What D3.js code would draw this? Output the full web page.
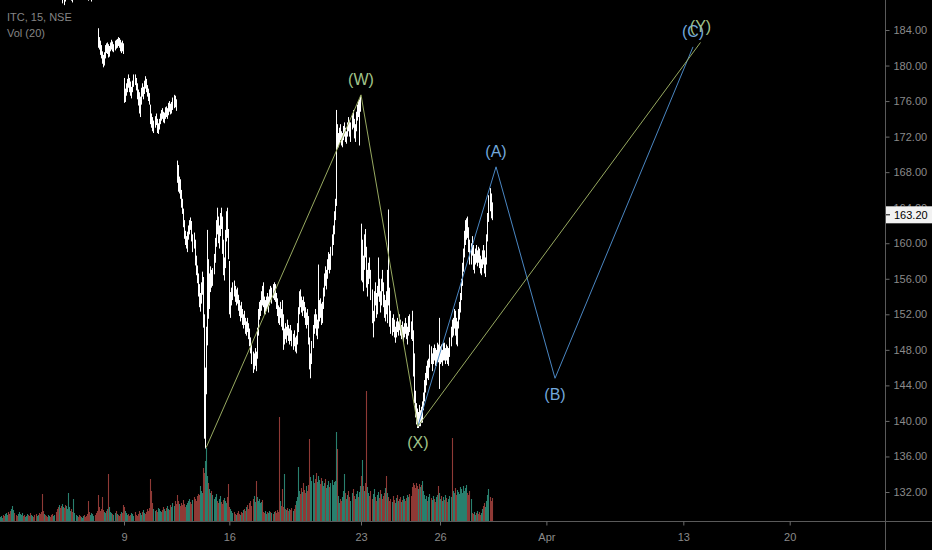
<!DOCTYPE html>
<html><head><meta charset="utf-8">
<script src="https://cdn.jsdelivr.net/npm/d3@7"></script>
<style>html,body{margin:0;padding:0;background:#000;overflow:hidden}svg{display:block}</style>
</head><body>
<svg id="c" width="932" height="550"></svg>
<script>
// bar index 0 = first 15-min bar of 9 Mar; data starts at index -118 (2 Mar)
const firstBar = -118;
const highs = [
// Mar 2
191.7,192.0,192.4,192.3,191.9,192.1,192.6,193.0,192.8,192.4,192.0,192.2,192.5,192.8,192.5,192.1,191.9,192.0,
// Mar 3
192.3,192.7,193.1,193.6,193.4,193.1,193.2,193.7,194.0,193.7,193.3,192.9,193.1,193.4,193.1,192.7,192.3,192.6,192.9,192.6,192.3,191.9,191.7,191.3,191.4,
// Mar 4
190.8,190.5,190.1,190.3,190.6,190.3,189.9,189.5,189.7,190.0,189.7,189.3,189.0,189.2,188.7,188.4,188.6,188.9,188.5,188.2,188.5,188.8,189.1,189.4,189.6,
// Mar 5
189.3,188.9,189.1,189.5,189.9,190.3,190.0,189.6,189.3,189.7,190.1,190.4,190.0,189.6,189.2,188.9,188.6,188.4,188.7,189.0,189.3,189.6,189.3,189.0,188.7,
// Mar 6
184.2,183.2,182.8,182.3,181.6,181.2,181.5,182.3,182.5,182.6,182.4,182.2,182.6,182.9,182.7,182.4,182.8,182.9,183.0,183.2,183.1,182.9,182.6,182.8,182.5,
// Mar 9
178.6,177.4,178.0,178.5,179.0,178.6,178.2,177.6,178.3,179.0,179.0,178.6,178.0,177.3,177.0,176.5,177.5,178.0,177.6,178.3,178.8,178.5,177.8,177.4,176.9,
// Mar 11
175.6,174.6,174.2,173.8,174.3,174.6,174.0,173.5,174.0,174.6,175.0,175.2,174.8,174.7,175.3,175.4,175.2,175.8,176.0,175.7,175.9,176.4,176.7,176.6,176.2,
// Mar 12
169.3,168.8,167.5,167.2,166.0,165.0,163.9,162.6,161.4,160.8,161.3,162.0,162.6,162.9,162.5,161.0,161.2,160.4,158.6,157.5,156.6,155.4,154.4,155.6,156.8,
// Mar 13
156.2,152.0,146.0,150.6,161.5,158.2,156.6,157.4,157.0,157.2,158.8,160.6,162.6,164.0,163.0,162.0,163.4,164.0,163.0,160.4,158.4,161.5,163.6,164.0,161.6,
// Mar 16
158.0,154.5,155.0,155.6,155.8,155.2,154.8,155.0,154.2,153.6,153.0,153.4,152.6,152.0,152.4,151.6,151.2,151.6,151.0,150.4,149.4,148.6,147.8,147.6,148.2,
// Mar 17
147.8,150.5,152.6,153.4,153.6,154.6,155.2,155.6,154.0,153.6,154.0,154.4,154.0,154.8,155.2,155.0,155.4,155.6,155.4,154.4,153.8,153.0,152.8,153.4,152.6,
// Mar 18
153.6,152.0,150.4,151.0,150.6,151.4,150.8,150.4,150.8,150.2,149.8,150.2,149.4,149.6,151.0,152.8,154.6,154.8,154.0,153.6,154.0,153.4,152.8,152.2,152.6,
// Mar 19
151.8,149.4,147.6,149.0,150.8,152.0,152.6,152.0,151.4,157.6,153.6,153.8,153.2,153.4,155.0,156.6,157.4,157.0,158.2,159.0,158.8,159.6,161.0,162.0,163.6,
// Mar 20
165.0,175.0,173.4,172.4,173.0,173.4,172.6,172.4,173.2,173.6,173.0,172.6,173.6,174.2,173.8,173.6,174.6,175.0,174.0,173.4,174.8,175.6,176.0,176.2,176.6,
// Mar 23
162.2,160.4,158.6,161.0,161.6,159.6,157.0,157.8,158.4,157.0,154.8,152.4,154.6,155.6,154.4,155.2,158.4,156.0,154.6,156.0,157.0,155.6,154.2,153.6,154.6,
// Mar 24
157.0,163.8,155.0,152.4,151.6,152.0,151.4,150.6,151.2,151.6,151.2,152.0,151.4,150.8,151.2,150.6,151.0,151.6,151.0,150.6,151.8,152.0,151.2,152.4,150.2,
// Mar 25
147.6,143.4,142.0,141.4,141.0,141.8,141.2,141.6,142.2,143.2,144.6,145.4,146.2,146.8,147.0,148.6,148.4,147.6,148.2,148.6,148.2,148.0,148.8,148.6,151.6,
// Mar 26
148.4,148.6,148.0,148.8,148.8,148.2,148.6,148.4,148.2,149.4,150.6,151.4,151.6,152.6,152.4,151.6,151.2,152.6,153.4,154.4,156.0,157.8,159.4,161.4,162.6,
// Mar 27
162.8,163.0,161.8,160.4,160.0,160.8,159.8,158.8,159.4,159.8,159.2,159.6,159.4,158.6,158.2,159.2,159.8,159.2,158.4,161.0,163.4,165.4,166.2,165.6,164.6
];
const lows = [
190.8,191.0,191.5,191.3,191.0,191.2,191.6,192.1,191.9,191.5,191.2,191.3,191.6,191.9,191.6,191.3,191.0,191.1,
191.5,191.9,192.3,192.7,192.6,192.2,192.4,192.8,193.1,192.8,192.4,192.1,192.2,192.5,192.2,191.8,191.5,191.7,192.0,191.7,191.4,191.1,190.7,190.3,190.5,
189.9,189.5,189.2,189.4,189.7,189.3,188.9,188.6,188.8,189.1,188.7,188.4,188.0,188.3,187.8,187.5,187.0,187.9,186.8,187.2,187.5,187.8,188.1,188.4,188.7,
187.3,187.1,188.1,188.5,188.9,189.3,189.0,188.6,188.3,188.7,189.1,189.4,189.0,188.6,188.2,187.9,187.3,187.4,187.7,187.2,188.3,188.6,188.3,188.0,187.7,
182.0,181.8,181.2,180.8,180.2,179.8,180.0,180.8,181.4,181.3,180.9,181.0,181.6,181.8,181.6,181.5,181.7,181.9,182.0,182.2,182.0,181.6,181.4,181.6,181.3,
175.8,175.9,176.6,177.0,177.5,177.0,176.6,176.3,177.0,177.6,177.8,177.2,176.2,175.5,174.6,174.2,175.6,176.5,176.2,176.8,177.4,177.0,176.5,176.0,175.6,
173.4,173.0,172.6,172.4,173.0,173.3,172.4,172.3,172.8,173.4,173.8,174.0,173.6,173.5,174.0,174.2,174.0,174.4,174.8,174.5,174.6,175.0,175.2,175.3,174.9,
166.8,165.8,165.6,165.0,164.0,163.3,161.8,160.5,159.8,159.4,159.0,160.4,161.0,161.5,160.2,159.0,159.4,157.5,156.4,155.5,154.0,152.8,152.3,153.2,154.2,
150.5,138.0,136.9,143.0,148.5,151.5,152.6,154.5,155.0,155.2,156.5,157.8,159.6,161.0,160.0,159.4,160.8,161.6,158.8,156.4,155.8,157.2,160.2,160.6,158.2,
152.0,151.6,153.0,153.6,154.0,153.4,153.0,153.2,152.4,151.8,151.2,151.6,150.8,150.4,150.8,149.8,149.6,150.0,149.2,148.4,147.6,146.4,145.4,145.8,146.2,
145.6,147.0,149.6,151.4,151.8,152.4,153.0,152.8,152.0,152.0,152.4,152.8,152.2,153.0,153.6,153.2,153.8,153.6,153.4,152.6,151.8,151.0,150.8,151.6,150.6,
150.2,148.0,148.6,149.2,148.8,149.6,149.0,148.6,149.0,148.4,148.0,148.4,147.8,147.6,148.6,150.0,152.0,152.8,152.2,151.8,152.4,151.6,150.8,150.4,150.8,
148.6,145.8,144.8,146.4,148.2,149.8,150.4,149.6,149.2,150.4,151.2,151.6,150.8,151.0,152.6,154.0,155.2,154.8,156.0,157.0,156.6,157.0,158.6,159.8,161.0,
162.6,164.2,170.6,170.8,171.2,171.6,171.0,170.8,171.6,172.0,171.4,171.2,172.0,172.6,172.0,171.4,172.8,173.0,171.8,171.4,172.6,173.8,174.2,171.0,174.8,
155.8,155.6,154.6,157.0,158.4,155.0,154.0,155.4,156.0,153.6,151.0,149.4,151.2,153.0,151.6,152.0,154.0,153.4,152.2,153.0,154.6,152.8,151.6,151.2,152.0,
151.0,153.0,150.6,149.8,149.6,150.0,149.4,148.8,149.4,150.0,149.6,150.2,149.6,149.2,149.6,148.8,149.4,149.8,149.2,148.6,149.6,150.0,149.2,149.0,145.0,
142.0,140.4,139.6,139.2,139.2,139.4,139.4,139.8,139.8,141.2,142.2,143.2,144.0,144.8,144.6,146.0,146.4,145.6,146.4,146.8,146.2,146.2,146.8,146.6,143.6,
146.4,146.6,146.2,146.8,146.8,146.4,146.8,146.4,146.2,147.2,148.4,149.4,149.6,150.4,149.6,148.6,148.4,150.4,151.4,152.2,153.6,155.2,156.8,158.4,159.8,
160.4,160.6,159.0,157.6,157.6,158.6,157.0,156.6,157.6,157.8,157.4,157.8,157.2,156.6,156.4,157.2,157.6,156.6,156.2,157.6,160.2,162.4,163.6,162.8,162.6
];
const closes = [
191.2,191.6,192.0,191.8,191.4,191.7,192.2,192.6,192.3,191.9,191.6,191.8,192.1,192.4,192.0,191.7,191.4,191.6,
192.0,192.4,192.8,193.2,193.0,192.6,192.9,193.3,193.6,193.2,192.8,192.5,192.7,193.0,192.6,192.2,191.9,192.2,192.5,192.1,191.8,191.5,191.2,190.8,191.0,
190.4,190.0,189.6,189.9,190.2,189.8,189.4,189.0,189.3,189.6,189.2,188.8,188.5,188.8,188.2,187.8,188.1,188.4,188.0,187.7,188.0,188.3,188.6,188.9,189.2,
188.8,188.4,188.6,189.0,189.4,189.8,189.5,189.1,188.8,189.2,189.6,189.9,189.5,189.1,188.7,188.4,188.1,187.9,188.2,188.5,188.8,189.1,188.8,188.5,188.2,
182.5,182.2,181.5,181.0,180.6,180.3,181.2,181.9,181.7,182.2,181.3,181.8,182.1,182.5,181.9,182.0,182.4,182.2,182.7,182.6,182.4,181.9,182.1,181.8,181.6,
176.5,177.0,177.6,178.2,177.9,177.4,176.9,177.3,178.0,178.6,178.2,177.5,176.6,176.0,175.0,176.1,177.2,177.0,177.3,178.0,177.8,177.3,176.8,176.4,175.8,
173.8,173.4,173.0,173.5,174.0,173.6,172.8,173.2,173.8,174.2,174.5,174.3,174.0,174.4,174.8,174.6,174.9,175.4,175.2,175.0,175.6,175.8,176.3,175.6,175.3,
167.3,166.2,166.8,165.4,164.4,163.6,162.2,160.9,160.2,160.4,161.0,161.6,162.3,161.8,160.5,160.6,159.8,158.0,156.8,155.8,154.6,153.5,153.8,155.0,156.4,
151.0,140.5,144.0,149.8,157.0,154.0,155.4,156.0,155.6,156.8,158.2,160.2,162.0,161.6,160.6,161.5,162.8,162.0,159.4,157.2,157.6,161.0,162.8,161.0,158.6,
153.0,153.8,154.6,155.0,154.4,153.8,154.4,153.6,152.8,152.3,152.6,152.0,151.2,151.6,151.0,150.2,150.8,150.4,149.6,148.8,148.0,147.0,146.0,147.2,147.8,
147.0,150.0,152.0,152.4,153.0,154.0,153.4,153.2,152.5,153.2,153.6,153.0,153.8,154.4,154.0,154.6,154.2,154.8,153.8,153.0,152.2,151.6,151.0,152.0,151.0,
150.8,149.0,150.0,149.6,150.2,150.0,149.4,149.8,149.4,148.8,149.2,148.6,148.4,149.2,150.6,152.4,153.8,153.4,152.8,153.2,152.8,152.0,151.4,151.8,151.2,
149.0,146.4,147.0,148.6,150.4,151.4,151.0,150.2,150.8,152.0,152.8,152.2,151.6,153.0,154.6,156.0,155.8,156.6,157.8,158.2,157.4,159.2,160.4,161.6,163.0,
164.6,172.0,171.4,171.8,172.6,172.0,171.6,172.2,172.8,173.2,171.8,172.4,173.2,173.0,172.6,173.4,174.2,173.4,172.4,173.0,174.4,175.0,174.6,175.6,175.8,
156.2,158.6,157.8,160.4,159.0,155.6,156.4,157.2,156.6,154.2,151.6,151.8,154.0,153.4,152.6,154.8,155.2,154.0,153.6,155.4,155.0,153.4,152.2,152.8,152.6,
155.0,154.0,151.4,150.4,151.2,150.6,149.8,150.2,150.8,150.4,151.0,150.6,150.0,150.4,149.8,150.2,150.6,150.2,149.6,150.4,151.2,150.4,149.8,149.4,145.6,
142.6,141.0,140.4,139.8,140.6,139.8,140.8,140.2,141.8,142.8,144.0,144.6,145.8,145.2,146.6,147.8,146.8,147.2,147.6,147.2,146.8,147.6,148.2,147.0,147.6,
147.8,147.0,147.6,148.2,147.2,147.8,147.4,146.8,147.8,149.0,150.2,149.8,151.2,152.0,150.2,149.0,150.8,152.2,152.8,154.0,155.6,157.4,159.0,160.8,161.6,
162.2,161.0,159.6,158.4,159.6,159.0,157.6,158.4,158.8,158.2,158.8,158.4,157.8,157.2,157.8,158.8,158.2,157.0,158.0,160.6,163.0,164.8,164.2,163.8,163.2
];
const volumes = [
4,5,3,6,5,7,8,6,9,7,10,12,15,11,8,6,5,7,
9,7,6,8,5,6,4,5,7,6,5,8,6,5,4,6,7,5,6,8,7,9,27,10,7,
6,5,4,6,5,4,6,7,5,6,9,12,14,16,13,15,17,14,13,16,15,12,28,14,10,
12,9,22,8,6,5,4,6,5,4,3,5,6,4,5,7,20,9,6,8,7,5,6,8,10,
26,14,10,12,24,11,9,8,10,12,47,14,9,8,7,6,8,10,7,6,5,7,9,8,16,
14,10,8,6,7,5,6,8,7,5,9,6,5,7,10,8,6,9,11,8,7,9,12,10,13,
42,30,18,12,10,11,9,13,12,10,9,11,14,12,10,13,15,12,11,16,14,18,15,20,17,
26,20,17,15,18,16,21,17,14,16,18,20,22,19,17,21,24,22,20,25,27,26,35,30,28,
53,48,60,73,45,38,32,28,30,26,22,24,27,20,18,22,25,19,17,21,23,20,18,24,37,
14,12,10,8,9,7,6,8,10,7,6,9,8,11,12,10,14,16,12,18,20,15,22,25,19,
40,24,20,22,18,19,21,9,8,10,7,9,8,10,9,8,7,9,10,8,11,9,104,20,15,
32,14,47,12,11,13,10,12,11,13,10,12,16,20,24,54,30,27,33,29,38,31,28,35,30,
36,82,44,40,46,38,42,48,39,45,41,37,43,40,35,38,42,33,36,40,34,38,41,36,39,
40,89,72,25,18,22,20,24,30,47,28,22,26,30,24,20,28,32,25,22,27,30,24,29,35,
45,61,35,30,38,130,34,28,25,30,22,27,32,24,20,26,29,23,31,27,22,25,28,33,45,
28,24,20,22,19,25,21,18,23,26,20,22,24,19,21,25,22,20,23,26,24,27,25,34,38,
36,33,38,35,32,37,34,36,40,30,26,22,25,20,24,27,23,21,25,22,19,24,26,35,28,
22,25,20,24,21,26,23,19,22,25,24,83,30,28,33,26,31,29,27,34,32,28,35,30,33,
36,28,26,30,22,8,7,9,6,8,10,7,9,6,8,12,15,18,14,20,26,32,24,20,23
];
const priceTicks = [132,136,140,144,148,152,156,160,164,168,172,176,180,184];
const timeTickIdx = [0,100,225,300,401,531,632];
const timeTickLabels = ["9","16","23","26","Apr","13","20"];
const lastPrice = 163.20;
// Elliott wave drawings (bar index, price)
const waveWXY = [{i:78,p:137.0,t:""},{i:225,p:176.7,t:"(W)"},{i:279,p:139.4,t:"(X)"},{i:547.3,p:182.6,t:"(Y)"}];
const waveABC = [{i:279,p:139.4,t:""},{i:353.2,p:168.6,t:"(A)"},{i:409.2,p:144.8,t:"(B)"},{i:540.2,p:182.1,t:"(C)"}];
const labelSide = {"(W)":-1,"(X)":1,"(Y)":-1,"(A)":-1,"(B)":1,"(C)":-1};

const svg = d3.select("#c");
const AXIS_X = 885, VOL_BASE = 521;
svg.append("rect").attr("width",932).attr("height",550).attr("fill","#000");

const x = d3.scaleLinear().domain([0,300]).range([124,440]);
const y = d3.scaleLinear().domain([132,184]).range([492,30]);
const yv = d3.scaleLinear().domain([0,130]).range([VOL_BASE,391]);

svg.append("clipPath").attr("id","plot").append("rect").attr("x",0).attr("y",0).attr("width",AXIS_X).attr("height",VOL_BASE);
const plot = svg.append("g").attr("clip-path","url(#plot)");

const bars = closes.map((c,k)=>({i:firstBar+k,h:highs[k],l:lows[k],c:c,o:k?closes[k-1]:c,v:volumes[k]}));
const px = d=>Math.round(x(d.i))+0.5;

// volume
plot.append("g").selectAll("line").data(bars).join("line")
  .attr("x1",px).attr("x2",px)
  .attr("y1",VOL_BASE).attr("y2",d=>yv(d.v))
  .attr("stroke",d=>d.c>=d.o?"#29806f":"#8f3a36").attr("stroke-width",1.1);

// candles
plot.append("g").selectAll("line").data(bars).join("line")
  .attr("x1",px).attr("x2",px)
  .attr("y1",d=>y(d.l)).attr("y2",d=>y(d.h))
  .attr("stroke","#ffffff").attr("stroke-width",1);

// wave lines
const line = d3.line().x(d=>x(d.i)).y(d=>y(d.p));
plot.append("path").datum(waveABC).attr("d",line).attr("fill","none").attr("stroke","#4a86c2").attr("stroke-width",1);
plot.append("path").datum(waveWXY).attr("d",line).attr("fill","none").attr("stroke","#97a960").attr("stroke-width",1);

const lab = (pts,col)=>plot.append("g").selectAll("text").data(pts.filter(d=>d.t)).join("text")
  .attr("x",d=>x(d.i)).attr("y",d=>y(d.p)+(labelSide[d.t]<0?-10:22))
  .attr("text-anchor","middle").attr("font-family","Liberation Sans, Arial, sans-serif")
  .attr("font-size",16).attr("fill",col).text(d=>d.t);
lab(waveABC,"#72a8dc");
lab(waveWXY,"#a1c48a");

// axes lines
svg.append("line").attr("x1",AXIS_X+0.5).attr("x2",AXIS_X+0.5).attr("y1",0).attr("y2",550).attr("stroke","#5a5a5a");
svg.append("line").attr("x1",0).attr("x2",932).attr("y1",VOL_BASE+0.5).attr("y2",VOL_BASE+0.5).attr("stroke","#5a5a5a");

const ya = svg.append("g").attr("transform",`translate(${AXIS_X+0.5},0)`)
  .call(d3.axisRight(y).tickValues(priceTicks).tickFormat(d3.format(".2f")).tickSize(4).tickPadding(4));
ya.select(".domain").remove();
ya.selectAll("line").attr("stroke","#6a6a6a");
ya.selectAll("text").attr("fill","#8a8a8a").attr("font-size",11).attr("font-family","Liberation Sans, Arial, sans-serif");

const xa = svg.append("g").attr("transform",`translate(0,${VOL_BASE+0.5})`)
  .call(d3.axisBottom(x).tickValues(timeTickIdx).tickFormat((d,k)=>timeTickLabels[k]).tickSize(4).tickPadding(8));
xa.select(".domain").remove();
xa.selectAll("line").attr("stroke","#6a6a6a");
xa.selectAll("text").attr("fill","#8a8a8a").attr("font-size",11).attr("font-family","Liberation Sans, Arial, sans-serif");

// last price label
const ly = y(lastPrice);
svg.append("rect").attr("x",AXIS_X+1).attr("y",ly-8.5).attr("width",46).attr("height",17).attr("fill","#f2f2f2");
svg.append("line").attr("x1",AXIS_X+1).attr("x2",AXIS_X+5).attr("y1",ly).attr("y2",ly).attr("stroke","#000");
svg.append("text").attr("x",AXIS_X+9).attr("y",ly+4).attr("fill","#000").attr("font-size",11)
  .attr("font-family","Liberation Sans, Arial, sans-serif").text(d3.format(".2f")(lastPrice));

// titles
svg.append("text").attr("x",7).attr("y",21).attr("fill","#858585").attr("font-size",11)
  .attr("font-family","Liberation Sans, Arial, sans-serif").text("ITC, 15, NSE");
svg.append("text").attr("x",7).attr("y",37).attr("fill","#858585").attr("font-size",11)
  .attr("font-family","Liberation Sans, Arial, sans-serif").text("Vol (20)");
</script>
</body></html>
